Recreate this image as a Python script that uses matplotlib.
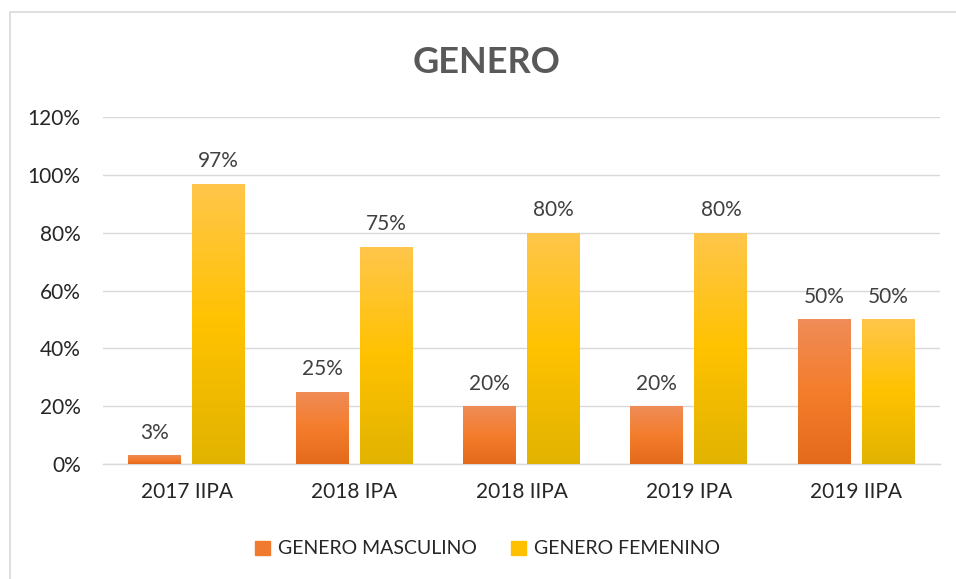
"""Grouped bar chart: GENERO por periodo."""

import matplotlib

matplotlib.use("Agg")

import matplotlib.pyplot as plt
import numpy as np
from matplotlib.colors import LinearSegmentedColormap
from matplotlib.patches import Rectangle

periods = ["2017 IIPA", "2018 IPA", "2018 IIPA", "2019 IPA", "2019 IIPA"]
masculino = [0.03, 0.25, 0.20, 0.20, 0.50]
femenino = [0.97, 0.75, 0.80, 0.80, 0.50]
series_names = ["GENERO MASCULINO", "GENERO FEMENINO"]
yticks = [0.0, 0.2, 0.4, 0.6, 0.8, 1.0, 1.2]

plt.rcParams["font.family"] = ["Lato", "DejaVu Sans"]

# gradient stops: bottom -> middle -> top
orange_cmap = LinearSegmentedColormap.from_list(
    "orange", ["#E36A1B", "#F47D2C", "#EF8C57"])
yellow_cmap = LinearSegmentedColormap.from_list(
    "yellow", ["#E1B300", "#FFC200", "#FFC64B"])

fig = plt.figure(figsize=(9.56, 5.79), dpi=100)
ax = fig.add_axes([0.1077, 0.1986, 0.8756, 0.5993])

# outer chart border
fig.patches.append(Rectangle((10 / 956, -0.1), 2.0, 1 - 12 / 579 + 0.1,
                             transform=fig.transFigure, fill=False,
                             edgecolor="#D9D9D9", linewidth=1.2))

x = np.arange(len(periods))
width = 0.316
offset = 0.191
grad = np.linspace(0, 1, 256).reshape(-1, 1)


def gradient_bars(bars, cmap):
    for bar in bars:
        x0, y0 = bar.get_x(), bar.get_y()
        w, h = bar.get_width(), bar.get_height()
        im = ax.imshow(grad, cmap=cmap, origin="lower", aspect="auto",
                       extent=(x0, x0 + w, y0, y0 + h), zorder=3)
        im.set_clip_path(bar)


bars_m = ax.bar(x - offset, masculino, width, color="none",
                edgecolor="none", label=series_names[0], zorder=3)
bars_f = ax.bar(x + offset, femenino, width, color="none",
                edgecolor="none", label=series_names[1], zorder=3)
gradient_bars(bars_m, orange_cmap)
gradient_bars(bars_f, yellow_cmap)

for bars, vals in ((bars_m, masculino), (bars_f, femenino)):
    for bar, v in zip(bars, vals):
        ax.annotate(f"{v:.0%}", (bar.get_x() + bar.get_width() / 2, v),
                    xytext=(0, 12), textcoords="offset points",
                    ha="center", va="baseline", fontsize=15, color="#404040")

ax.set_xlim(-0.5, len(periods) - 0.5)
ax.set_ylim(0, 1.2)
ax.set_yticks(yticks)
ax.set_yticklabels([f"{t:.0%}" for t in yticks])
ax.set_xticks(x)
ax.set_xticklabels(periods)
ax.tick_params(axis="both", length=0, labelsize=15, colors="#262626")
ax.tick_params(axis="y", pad=16)
ax.tick_params(axis="x", pad=13)
ax.grid(True, axis="y", color="#D9D9D9", linewidth=1.0)
ax.set_axisbelow(True)
for side in ("top", "right", "left"):
    ax.spines[side].set_visible(False)
ax.spines["bottom"].set_color("#D9D9D9")
ax.spines["bottom"].set_linewidth(1.0)

fig.text(0.509, 1 - 73 / 579, "GENERO", ha="center", va="baseline",
         fontsize=26, fontweight="bold", color="#595959")

handles = [Rectangle((0, 0), 1, 1, color="#F07A30"),
           Rectangle((0, 0), 1, 1, color="#FFC000")]
fig.legend(handles, series_names, loc="center", ncol=2,
           bbox_to_anchor=(0.51, 1 - 549 / 579), frameon=False, fontsize=14,
           handlelength=0.75, handleheight=0.75, handletextpad=0.4,
           columnspacing=1.8, labelcolor="#262626")

fig.savefig("out.png", dpi=100)
